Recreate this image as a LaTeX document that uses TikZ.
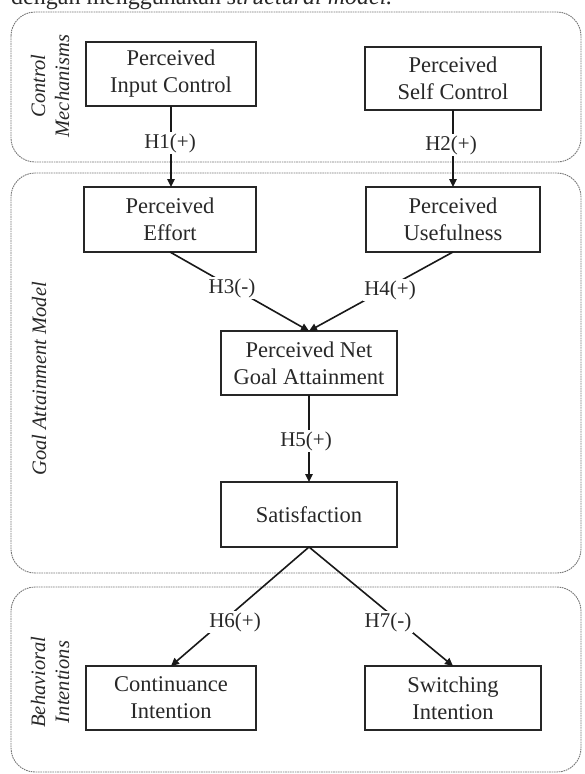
\documentclass[tikz,border=0pt]{standalone}
\usepackage{fontspec}
\setmainfont{Liberation Serif}
\usetikzlibrary{arrows.meta}
\definecolor{txt}{RGB}{40,40,40}
\definecolor{grp}{RGB}{120,120,120}
\begin{document}
\begin{tikzpicture}[x=1pt,y=-1pt,
  box/.style={draw=black!85, line width=1.3pt, inner sep=0pt, outer sep=0pt,
    align=center, text=txt, font=\fontsize{22.5}{27}\selectfont},
  group/.style={draw=grp, line width=0.9pt, dash pattern=on 1.6pt off 0.8pt, rounded corners=24pt},
  glabel/.style={rotate=90, align=center, text=txt, inner sep=0pt,
    font=\fontsize{20.5}{24}\selectfont\itshape},
  arr/.style={line width=1.6pt, black!90, -{Triangle[length=8pt,width=7.5pt]}},
  hlab/.style={fill=white, inner sep=1.5pt, text=txt, font=\fontsize{21}{25}\selectfont}]
\useasboundingbox (0,0) rectangle (584,774);
\fill[white] (0,0) rectangle (584,774);
% top text line (cut off)
\node[anchor=base west, inner sep=0pt, text=txt, font=\fontsize{24}{28}\selectfont] (toptext) at (11,4)
  {dengan menggunakan \textit{structural model.}};
% groups
\draw[group] (11,12) rectangle (581,162);
\draw[group] (11,173) rectangle (581,573);
\draw[group] (11,587) rectangle (581,772);
\node[glabel] (g1) at (50,86) {Control\\Mechanisms};
\node[glabel] (g2) at (39,379) {Goal Attainment Model};
\node[glabel] (g3) at (50,682) {Behavioral\\Intentions};
% boxes
\node[box, minimum width=170pt, minimum height=64pt] (inctl) at (171,74) {Perceived\\Input Control};
\node[box, minimum width=176pt, minimum height=63pt] (selfctl) at (453,78.5) {Perceived\\Self Control};
\node[box, minimum width=172pt, minimum height=65pt] (effort) at (170,219.5) {Perceived\\Effort};
\node[box, minimum width=174pt, minimum height=65pt] (useful) at (453,219.5) {Perceived\\Usefulness};
\node[box, minimum width=176pt, minimum height=64pt] (net) at (309,363) {Perceived Net\\Goal Attainment};
\node[box, minimum width=176pt, minimum height=65pt] (satis) at (309,514.5) {Satisfaction};
\node[box, minimum width=170pt, minimum height=64pt] (cont) at (171,698) {Continuance\\Intention};
\node[box, minimum width=176pt, minimum height=64pt] (switch) at (453,698) {Switching\\Intention};
% connectors
\draw[arr] (inctl.south) -- (inctl.south |- effort.north);
\draw[arr] (selfctl.south) -- (selfctl.south |- useful.north);
\draw[arr] (effort.south) -- (net.north);
\draw[arr] (useful.south) -- (net.north);
\draw[arr] (net.south) -- (satis.north);
\draw[arr] (satis.south) -- (cont.north);
\draw[arr] (satis.south) -- (switch.north);
% labels
\node[hlab] (h1) at (170,143) {H1(+)};
\node[hlab] (h2) at (451,145) {H2(+)};
\node[hlab] (h3) at (232,288) {H3(-)};
\node[hlab] (h4) at (390,290) {H4(+)};
\node[hlab] (h5) at (306,441) {H5(+)};
\node[hlab] (h6) at (235,622) {H6(+)};
\node[hlab] (h7) at (388,622) {H7(-)};
\end{tikzpicture}
\end{document}
